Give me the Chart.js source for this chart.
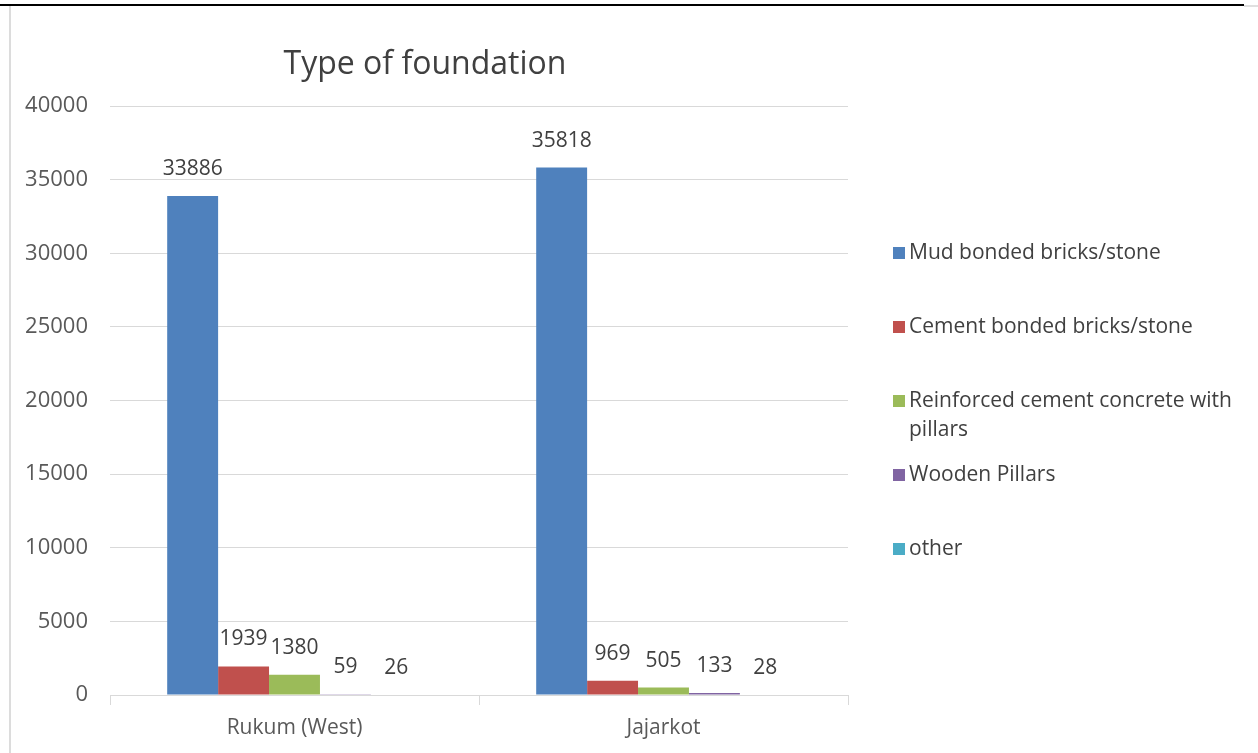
<!DOCTYPE html>
<html>
<head>
<meta charset="utf-8">
<script src="https://cdn.jsdelivr.net/npm/chart.js@4"></script>
<style>
  html, body { margin: 0; padding: 0; background: #fff; }
  #wrap { position: relative; width: 1258px; height: 753px; overflow: hidden; }
  #topline { position: absolute; left: 0; top: 4px; width: 1244px; height: 2px; background: #000; }
  #topshade { position: absolute; left: 1244px; top: 5px; width: 14px; height: 2px; background: #e0e0e0; }
  #leftline { position: absolute; left: 9px; top: 6px; width: 2px; height: 747px; background: #dcdcdc; }
  canvas { position: absolute; left: 0; top: 0; }
</style>
</head>
<body>
<div id="wrap">
  <canvas id="chart" width="1258" height="753"></canvas>
  <div id="topline"></div>
  <div id="topshade"></div>
  <div id="leftline"></div>
</div>
<script>
// chart data
const districts = ['Rukum (West)', 'Jajarkot'];
const foundationTypes = [
    'Mud bonded bricks/stone',
    'Cement bonded bricks/stone',
    'Reinforced cement concrete with pillars',
    'Wooden Pillars',
    'other'
];
const mudBonded = [33886, 35818];
const cementBonded = [1939, 969];
const rccPillars = [1380, 505];
const woodenPillars = [59, 133];
const otherType = [26, 28];
const yTicks = [0, 5000, 10000, 15000, 20000, 25000, 30000, 35000, 40000];

const colors = ['#4F81BD', '#C0504D', '#9BBB59', '#8064A2', '#4BACC6'];
const seriesValues = [mudBonded, cementBonded, rccPillars, woodenPillars, otherType];
const FONT = '"Open Sans", Lato, sans-serif';

// value labels above each bar
const barLabels = {
    id: 'barLabels',
    afterDatasetsDraw(chart) {
        const ctx = chart.ctx;
        ctx.save();
        ctx.font = '21px ' + FONT;
        ctx.fillStyle = '#404040';
        ctx.textAlign = 'center';
        ctx.textBaseline = 'middle';
        chart.data.datasets.forEach((ds, i) => {
            chart.getDatasetMeta(i).data.forEach((bar, j) => {
                ctx.fillText(String(ds.data[j]), bar.x, bar.y - 27);
            });
        });
        ctx.restore();
    }
};

// title and right-hand legend
const titleAndLegend = {
    id: 'titleAndLegend',
    afterDraw(chart) {
        const ctx = chart.ctx;
        ctx.save();
        ctx.font = '32px ' + FONT;
        ctx.fillStyle = '#404040';
        ctx.textAlign = 'center';
        ctx.textBaseline = 'middle';
        ctx.fillText('Type of foundation', 425, 65);

        ctx.font = '21px ' + FONT;
        ctx.textAlign = 'left';
        const maxW = 335;
        chart.data.datasets.forEach((ds, i) => {
            const y = 253 + i * 74;
            ctx.fillStyle = ds.backgroundColor;
            ctx.fillRect(893, y - 6, 12, 12);
            ctx.fillStyle = '#404040';
            // simple word wrap
            const words = ds.label.split(' ');
            let line = '';
            let ly = y;
            words.forEach(w => {
                const test = line ? line + ' ' + w : w;
                if (ctx.measureText(test).width > maxW && line) {
                    ctx.fillText(line, 909, ly);
                    line = w;
                    ly += 29;
                } else {
                    line = test;
                }
            });
            ctx.fillText(line, 909, ly);
        });
        ctx.restore();
    }
};

new Chart(document.getElementById('chart'), {
    type: 'bar',
    data: {
        labels: districts,
        datasets: foundationTypes.map((name, i) => ({
            label: name,
            data: seriesValues[i],
            backgroundColor: colors[i],
            borderWidth: 0,
            categoryPercentage: 0.69,
            barPercentage: 1
        }))
    },
    options: {
        responsive: false,
        animation: false,
        events: [],
        layout: { padding: { left: 10, right: 410, top: 106, bottom: 0 } },
        plugins: {
            legend: { display: false },
            title: { display: false },
            tooltip: { enabled: false }
        },
        scales: {
            y: {
                min: 0,
                max: 40000,
                afterFit: s => { s.width = 100; },
                afterBuildTicks: s => { s.ticks = yTicks.map(v => ({ value: v })); },
                ticks: {
                    color: '#595959',
                    font: { family: FONT, size: 22 },
                    padding: 22,
                    callback: v => String(v)
                },
                grid: { color: '#d9d9d9', drawTicks: false, lineWidth: 1 },
                border: { display: false }
            },
            x: {
                afterFit: s => { s.height = 58; },
                ticks: {
                    color: '#595959',
                    font: { family: FONT, size: 21 },
                    padding: 10
                },
                grid: {
                    offset: true,
                    drawOnChartArea: false,
                    tickLength: 10,
                    color: '#d9d9d9'
                },
                border: { color: '#d9d9d9' }
            }
        }
    },
    plugins: [barLabels, titleAndLegend]
});
</script>
</body>
</html>
